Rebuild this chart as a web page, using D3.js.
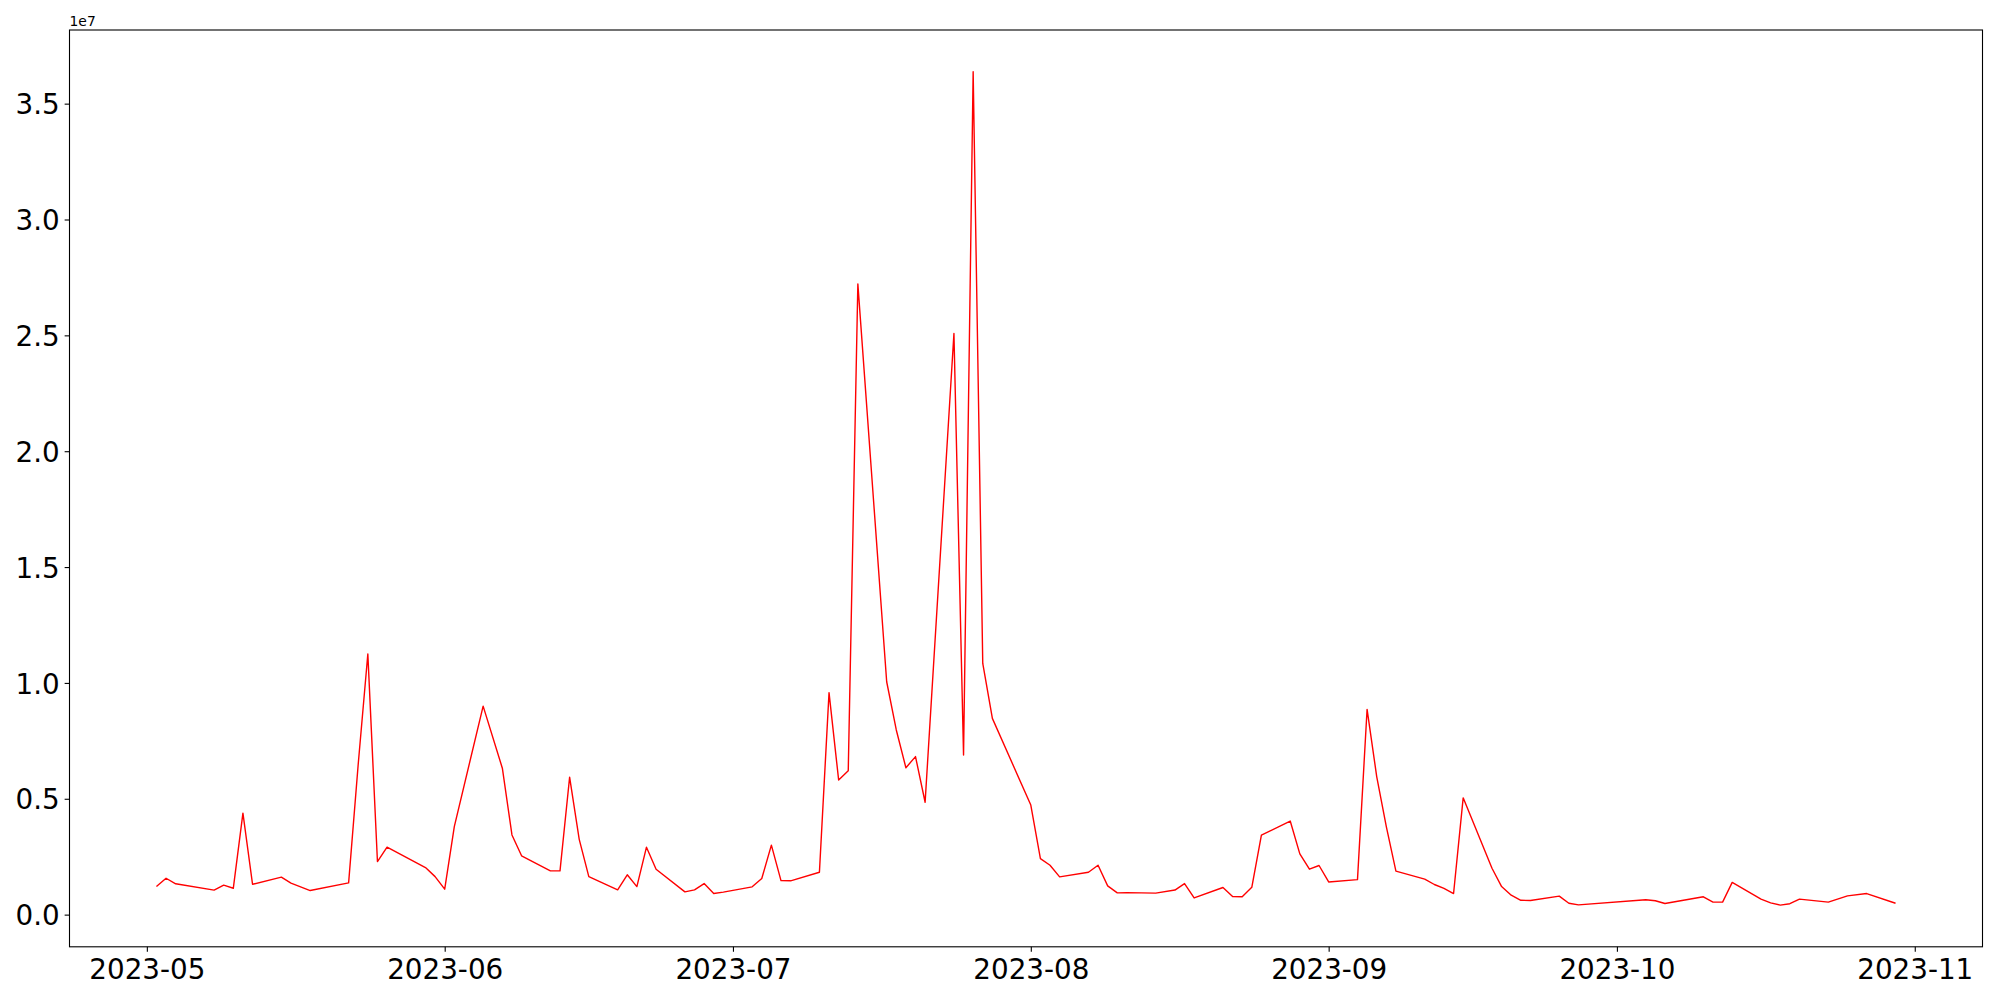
<!DOCTYPE html>
<html>
<head>
<meta charset="utf-8">
<script src="https://cdn.jsdelivr.net/npm/d3@7"></script>
<style>
  html, body { margin: 0; padding: 0; background: #ffffff; }
  svg { display: block; }
  text { font-family: "DejaVu Sans", sans-serif; fill: #000; }
</style>
</head>
<body>
<svg id="chart" width="2000" height="1000"></svg>
<script>
// ---- data ----
const dates = [
  "2023-05-02","2023-05-03","2023-05-04","2023-05-08","2023-05-09","2023-05-10","2023-05-11","2023-05-12",
  "2023-05-15","2023-05-16","2023-05-18","2023-05-22","2023-05-23","2023-05-24","2023-05-25","2023-05-26",
  "2023-05-30","2023-05-31","2023-06-01","2023-06-02","2023-06-05","2023-06-07","2023-06-08","2023-06-09",
  "2023-06-12","2023-06-13","2023-06-14","2023-06-15","2023-06-16","2023-06-19","2023-06-20","2023-06-21",
  "2023-06-22","2023-06-23","2023-06-26","2023-06-27","2023-06-28","2023-06-29","2023-06-30","2023-07-03",
  "2023-07-04","2023-07-05","2023-07-06","2023-07-07","2023-07-10","2023-07-11","2023-07-12","2023-07-13",
  "2023-07-14","2023-07-17","2023-07-18","2023-07-19","2023-07-20","2023-07-21","2023-07-24","2023-07-25",
  "2023-07-26","2023-07-27","2023-07-28","2023-08-01","2023-08-02","2023-08-03","2023-08-04","2023-08-07",
  "2023-08-08","2023-08-09","2023-08-10","2023-08-11","2023-08-14","2023-08-16","2023-08-17","2023-08-18",
  "2023-08-21","2023-08-22","2023-08-23","2023-08-24","2023-08-25","2023-08-28","2023-08-29","2023-08-30",
  "2023-08-31","2023-09-01","2023-09-04","2023-09-05","2023-09-06","2023-09-07","2023-09-08","2023-09-11",
  "2023-09-12","2023-09-13","2023-09-14","2023-09-15","2023-09-18","2023-09-19","2023-09-20","2023-09-21",
  "2023-09-22","2023-09-25","2023-09-26","2023-09-27","2023-10-04","2023-10-05","2023-10-06","2023-10-10",
  "2023-10-11","2023-10-12","2023-10-13","2023-10-16","2023-10-17","2023-10-18","2023-10-19","2023-10-20",
  "2023-10-23","2023-10-25","2023-10-27","2023-10-30"
];
const values = [
  1.21e6, 1.57e6, 1.33e6, 1.06e6, 1.27e6, 1.14e6, 4.38e6, 1.31e6,
  1.62e6, 1.36e6, 1.04e6, 1.37e6, 6.50e6, 1.125e7, 2.29e6, 2.91e6,
  2.03e6, 1.64e6, 1.10e6, 3.80e6, 9.00e6, 6.32e6, 3.44e6, 2.54e6,
  1.89e6, 1.89e6, 5.93e6, 3.25e6, 1.64e6, 1.07e6, 1.72e6, 1.21e6,
  2.91e6, 1.96e6, 0.98e6, 1.07e6, 1.34e6, 0.91e6, 0.97e6, 1.20e6,
  1.56e6, 3.00e6, 1.47e6, 1.46e6, 1.83e6, 9.58e6, 5.81e6, 6.21e6,
  2.722e7, 1.005e7, 7.97e6, 6.34e6, 6.82e6, 4.85e6, 2.508e7, 6.89e6,
  3.638e7, 1.084e7, 8.47e6, 4.73e6, 2.42e6, 2.13e6, 1.63e6, 1.83e6,
  2.13e6, 1.24e6, 0.94e6, 0.95e6, 0.93e6, 1.06e6, 1.34e6, 0.72e6,
  1.17e6, 0.78e6, 0.77e6, 1.18e6, 3.43e6, 4.04e6, 2.62e6, 1.96e6,
  2.12e6, 1.41e6, 1.51e6, 8.86e6, 5.96e6, 3.80e6, 1.88e6, 1.53e6,
  1.30e6, 1.13e6, 0.91e6, 5.04e6, 2.00e6, 1.21e6, 0.84e6, 0.62e6,
  0.61e6, 0.80e6, 0.49e6, 0.42e6, 0.64e6, 0.60e6, 0.48e6, 0.77e6,
  0.54e6, 0.54e6, 1.39e6, 0.67e6, 0.51e6, 0.41e6, 0.47e6, 0.67e6,
  0.54e6, 0.81e6, 0.91e6, 0.49e6
];
const xTickLabels = ["2023-05","2023-06","2023-07","2023-08","2023-09","2023-10","2023-11"];
const yTickLabels = ["0.0","0.5","1.0","1.5","2.0","2.5","3.0","3.5"];
const yOffsetLabel = "1e7";

// ---- layout ----
const L = 69.5, R = 1982.5, T = 30, B = 946.8;
const tickLen = 4.86, fontPx = 27.78;
const svg = d3.select("#chart");
svg.append("rect").attr("width", 2000).attr("height", 1000).attr("fill", "#fff");

const parse = d3.utcParse("%Y-%m-%d");
const data = dates.map((d, i) => ({ date: parse(d), value: values[i] }));

const xExt = d3.extent(data, d => d.date.getTime());
const xPad = (xExt[1] - xExt[0]) * 0.05;
const x = d3.scaleUtc().domain([new Date(xExt[0] - xPad), new Date(xExt[1] + xPad)]).range([L, R]);

const yExt = d3.extent(data, d => d.value);
const yPad = (yExt[1] - yExt[0]) * 0.05;
const y = d3.scaleLinear().domain([yExt[0] - yPad, yExt[1] + yPad]).range([B, T]);

// x axis
const xTicks = xTickLabels.map(s => d3.utcParse("%Y-%m")(s));
const xAxis = d3.axisBottom(x).tickValues(xTicks).tickFormat((d, i) => xTickLabels[i])
  .tickSize(tickLen).tickPadding(4.86);
const gx = svg.append("g").attr("transform", `translate(0,${B})`).call(xAxis);
gx.select(".domain").remove();
gx.selectAll(".tick line").attr("stroke", "#000").attr("stroke-width", 1.1);
gx.selectAll(".tick text").attr("font-family", "DejaVu Sans").attr("font-size", fontPx)
  .attr("fill", "#000").attr("y", 0).attr("dy", 0).attr("transform", "translate(0,32.2)");

// y axis
const yTicks = yTickLabels.map(s => +s * 1e7);
const yAxis = d3.axisLeft(y).tickValues(yTicks).tickFormat((d, i) => yTickLabels[i])
  .tickSize(tickLen).tickPadding(4.86);
const gy = svg.append("g").attr("transform", `translate(${L},0)`).call(yAxis);
gy.select(".domain").remove();
gy.selectAll(".tick line").attr("stroke", "#000").attr("stroke-width", 1.1);
gy.selectAll(".tick text").attr("font-family", "DejaVu Sans").attr("font-size", fontPx)
  .attr("fill", "#000").attr("dy", "0.364em");

// offset text
svg.append("text").attr("x", L).attr("y", 25.5).attr("font-size", 13.9).text(yOffsetLabel);

// line
const line = d3.line().x(d => x(d.date)).y(d => y(d.value));
svg.append("path").datum(data).attr("d", line)
  .attr("fill", "none").attr("stroke", "#ff0000").attr("stroke-width", 1.4)
  .attr("stroke-linejoin", "round").attr("stroke-linecap", "butt");

// frame
svg.append("rect").attr("x", L).attr("y", T).attr("width", R - L).attr("height", B - T)
  .attr("fill", "none").attr("stroke", "#000").attr("stroke-width", 1.1);
</script>
</body>
</html>
